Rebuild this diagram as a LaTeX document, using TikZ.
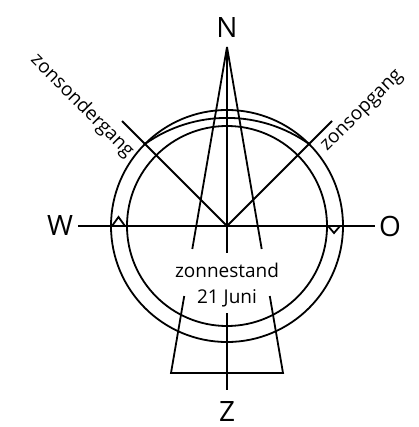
\documentclass[tikz,border=0pt]{standalone}
\usepackage{fontspec}
\setmainfont{Open Sans}
\usetikzlibrary{calc}
\begin{document}
\begin{tikzpicture}[x=1pt,y=-1pt,line width=1.8pt,
  compass/.style={font=\fontsize{28}{30}\selectfont,inner sep=0pt},
  lbl/.style={font=\fontsize{19}{21}\selectfont,inner sep=0pt},
  stroke/.style={draw=black,line join=miter}]
\useasboundingbox (0,0) rectangle (418,427);
\coordinate (C) at (227,226);
\coordinate (apex) at (227,47);
\coordinate (bl) at (171,373);
\coordinate (br) at (283,373);
% labels
\node[compass] (N) at (227,28) {N};
\node[compass] (W) at (60,226) {W};
\node[compass] (O) at (390,226) {O};
\node[compass] (Z) at (227,412) {Z};
\node[lbl,anchor=base] (zs) at (227,277) {zonnestand};
\node[lbl,anchor=base] (jun) at (227,303) {21 Juni};
\node[lbl,rotate=-45] (ondergang) at (82,106) {zonsondergang};
\node[lbl,rotate=45] (opgang) at (363,112) {zonsopgang};
% circles
\draw[stroke] (C) circle[radius=116];
\draw[stroke] (C) circle[radius=100];
\coordinate (arcL) at (145,144);
\draw[stroke] (arcL) arc[start angle=-125.3,end angle=-54.7,radius=142];
% W-O line
\coordinate (wend) at (78,226);
\coordinate (oend) at (375,226);
\draw[stroke] (wend) -- (oend);
% carets
\draw[stroke] (112,226) -- (118.5,217) -- (125,226);
\draw[stroke] (328,226) -- (334,233) -- (340,226);
% sun lines
\coordinate (sw) at (122,121);
\coordinate (se) at (332,121);
\draw[stroke] (sw) -- (C) -- (se);
% north lines
\coordinate (c1) at (227,253);
\coordinate (c2) at (227,313);
\coordinate (c3) at (227,390);
\draw[stroke] (apex) -- (c1);
\draw[stroke] (c2) -- (c3);
\draw[stroke] (apex) -- ($(apex)!0.6196!(bl)$);
\draw[stroke] (apex) -- ($(apex)!0.6196!(br)$);
\draw[stroke] ($(apex)!0.7638!(bl)$) -- (bl) -- (br) -- ($(apex)!0.7638!(br)$);
\end{tikzpicture}
\end{document}
